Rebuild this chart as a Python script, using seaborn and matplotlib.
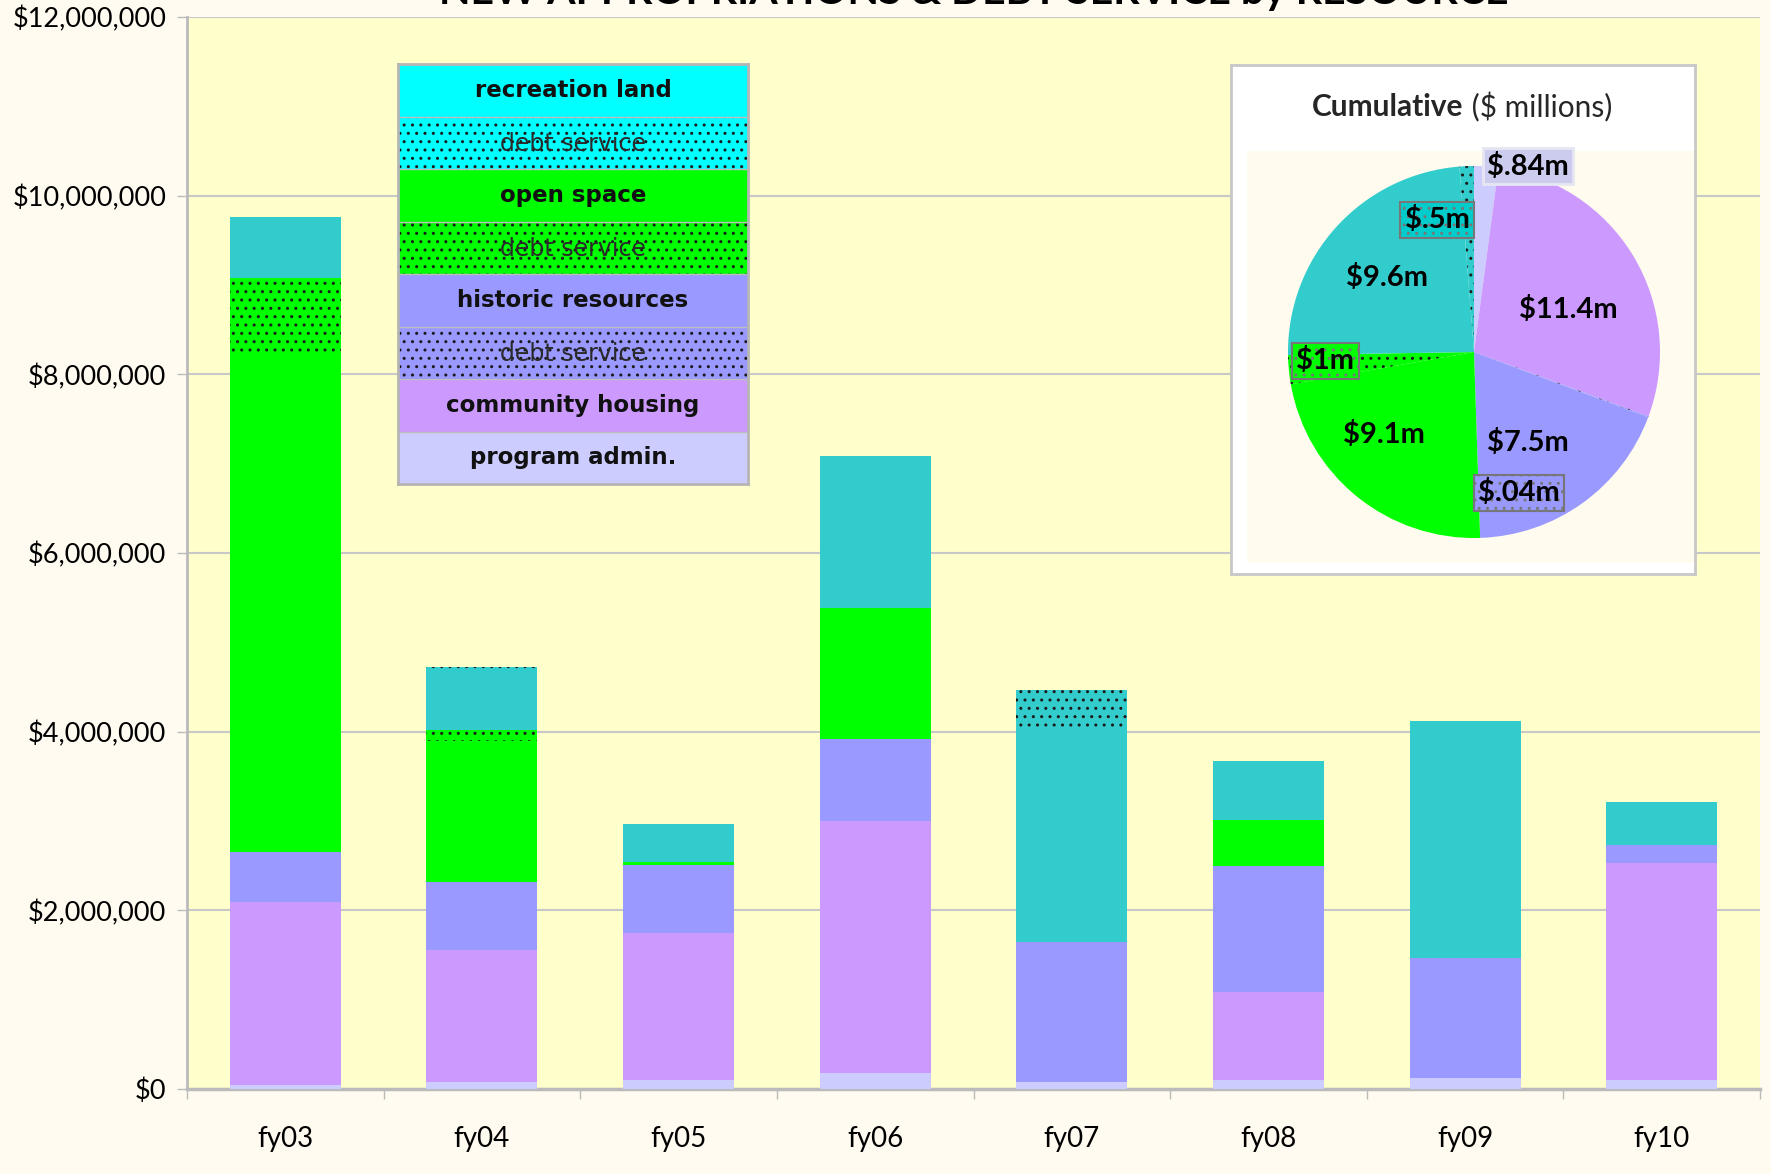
import numpy as np
import pandas as pd
import matplotlib
matplotlib.use("Agg")
import matplotlib.pyplot as plt
import seaborn as sns
from matplotlib.patches import Rectangle
from matplotlib.ticker import FuncFormatter, MultipleLocator, FixedLocator

# ---------------- data (millions of dollars) ----------------
years = ["fy03", "fy04", "fy05", "fy06", "fy07", "fy08", "fy09", "fy10"]
program_admin = [0.04, 0.08, 0.10, 0.18, 0.08, 0.10, 0.12, 0.10]
community_housing = [2.05, 1.48, 1.65, 2.82, 0.00, 0.99, 0.00, 2.43]
historic_resources = [0.56, 0.76, 0.76, 0.92, 1.57, 1.41, 1.35, 0.20]
historic_debt = [0.00, 0.00, 0.00, 0.00, 0.00, 0.00, 0.00, 0.00]
open_space = [5.56, 1.57, 0.03, 1.46, 0.00, 0.51, 0.00, 0.00]
open_space_debt = [0.87, 0.13, 0.00, 0.00, 0.00, 0.00, 0.00, 0.00]
recreation_land = [0.68, 0.65, 0.43, 1.71, 2.37, 0.66, 2.65, 0.48]
recreation_debt = [0.00, 0.05, 0.00, 0.00, 0.45, 0.00, 0.00, 0.00]

pie_labels = ["$.84m", "$11.4m", "$.04m", "$7.5m", "$9.1m", "$1m", "$9.6m", "$.5m"]
pie_values = [0.84, 11.4, 0.04, 7.5, 9.1, 1.0, 9.6, 0.5]

legend_labels = ["recreation land", "debt service", "open space", "debt service",
                 "historic resources", "debt service", "community housing", "program admin."]

title = "NEW APPROPRIATIONS & DEBT SERVICE by RESOURCE"

# ---------------- styles ----------------
C_REC, C_OPEN, C_HIST, C_COMM, C_ADMIN = "#33CCCC", "#00FF00", "#9999FF", "#CC99FF", "#CCCCFF"
DOTS = ".."
layers = [  # bottom -> top
    (program_admin, C_ADMIN, None),
    (community_housing, C_COMM, None),
    (historic_resources, C_HIST, None),
    (historic_debt, C_HIST, DOTS),
    (open_space, C_OPEN, None),
    (open_space_debt, C_OPEN, DOTS),
    (recreation_land, C_REC, None),
    (recreation_debt, C_REC, DOTS),
]
pie_colors = [C_ADMIN, C_COMM, C_HIST, C_HIST, C_OPEN, C_OPEN, C_REC, C_REC]
pie_hatch = [None, None, DOTS, None, None, DOTS, None, DOTS]
legend_colors = ["#00FFFF", "#00FFFF", "#00FF00", "#00FF00", "#9999FF", "#9999FF", "#CC99FF", "#CCCCFF"]
legend_hatch = [None, DOTS, None, DOTS, None, DOTS, None, None]

sns.set_theme(style="white")
plt.rcParams["font.family"] = ["Lato", "DejaVu Sans"]
plt.rcParams["hatch.linewidth"] = 1.0

BG = "#FFFBF0"
fig = plt.figure(figsize=(17.71, 11.74), dpi=100, facecolor=BG)
ax = fig.add_axes([187 / 1771, 1 - 1089 / 1174, 1573 / 1771, 1072 / 1174])
ax.set_facecolor("#FFFFCC")

# stacked bars: draw cumulative totals from top layer down
cum = np.cumsum(np.array([np.array(l[0]) for l in layers]), axis=0) * 1e6
for i in reversed(range(len(layers))):
    _, col, h = layers[i]
    df = pd.DataFrame({"year": years, "value": cum[i]})
    sns.barplot(data=df, x="year", y="value", color=col, saturation=1, width=0.565,
                errorbar=None, edgecolor="#1a1a1a", linewidth=0, hatch=h, ax=ax, zorder=3)

ax.set_ylim(0, 12e6)
ax.set_xlim(-0.5, 7.5)
ax.yaxis.set_major_locator(MultipleLocator(2e6))
ax.yaxis.set_major_formatter(FuncFormatter(lambda v, p: "${:,.0f}".format(v)))
ax.grid(axis="y", color="#C8C8C8", linewidth=1.5, zorder=0)
ax.set_axisbelow(True)
ax.set_xlabel("")
ax.set_ylabel("")
for s in ["top", "right"]:
    ax.spines[s].set_visible(False)
ax.spines["left"].set_color("#BBBBBB")
ax.spines["left"].set_linewidth(2)
ax.spines["bottom"].set_color("#BBBBBB")
ax.spines["bottom"].set_linewidth(2.5)
ax.tick_params(axis="y", which="major", length=7, width=1, color="#BBBBBB", pad=8,
               labelsize=19.5, labelcolor="black", left=True)
ax.xaxis.set_minor_locator(FixedLocator(np.arange(-0.5, 8.0, 1.0)))
ax.tick_params(axis="x", which="major", length=0, pad=27, labelsize=20, labelcolor="black")
ax.tick_params(axis="x", which="minor", length=7, width=1, color="#BBBBBB", bottom=True)

# partially visible title (clipped at top of the image)
fig.text((187 + 1760) / 2 / 1771, 1 - 4 / 1174, title, ha="center", va="baseline",
         fontsize=29.5, fontweight="bold", color="black")

# ---------------- legend panel ----------------
lax = fig.add_axes([398 / 1771, 1 - 484 / 1174, 350 / 1771, 420 / 1174], zorder=5)
lax.set_xlim(0, 1)
lax.set_ylim(0, len(legend_labels))
lax.set_xticks([])
lax.set_yticks([])
for s in lax.spines.values():
    s.set_color("#B5B5B5")
    s.set_linewidth(2)
for k, (lab, col, h) in enumerate(zip(legend_labels, legend_colors, legend_hatch)):
    y0 = len(legend_labels) - 1 - k
    lax.add_patch(Rectangle((0, y0), 1, 1, facecolor=col, edgecolor="#1a1a1a" if h else col,
                            linewidth=0, hatch=h))
    if lab == "debt service":
        lax.text(0.5, y0 + 0.47, lab, ha="center", va="center", fontsize=17,
                 family="DejaVu Sans", color="#2a2a2a", fontweight="normal")
    else:
        lax.text(0.5, y0 + 0.5, lab, ha="center", va="center", fontsize=16.5,
                 family="DejaVu Sans", fontweight="bold", color="#111111")
    if k > 0:
        lax.axhline(y0 + 1, color="#BDBDBD", linewidth=1)

# ---------------- cumulative pie panel ----------------
bax = fig.add_axes([1231 / 1771, 1 - 574 / 1174, 464 / 1771, 509 / 1174], zorder=5)
bax.set_facecolor("white")
bax.set_xlim(0, 1)
bax.set_ylim(0, 1)
bax.set_xticks([])
bax.set_yticks([])
for s in bax.spines.values():
    s.set_color("#C8C8C8")
    s.set_linewidth(2)
bax.add_patch(Rectangle((0.0345, 0.0216), 0.9655, 0.81, facecolor="#FFFBEF", edgecolor="none"))
t1 = bax.text(0.0, 0.0, "Cumulative", fontsize=21.5, fontweight="bold", va="center")
t2 = bax.text(0.0, 0.0, " ($ millions)", fontsize=21.5, va="center")
fig.canvas.draw()
r = fig.canvas.get_renderer()
w1 = t1.get_window_extent(r).width
w2 = t2.get_window_extent(r).width
bw = bax.get_window_extent(r).width
x0 = 0.498 - (w1 + w2) / 2 / bw
t1.set_position((x0, 0.9175))
t2.set_position((x0 + w1 / bw, 0.9175))

R = 186
pax = fig.add_axes([(1474 - R) / 1771, 1 - (352 + R) / 1174, 2 * R / 1771, 2 * R / 1174], zorder=6)
pax.set_facecolor("none")
wedges, _ = pax.pie(pie_values, colors=pie_colors, startangle=90, counterclock=False, radius=1,
                    wedgeprops=dict(linewidth=0, edgecolor="#1a1a1a"))
for w, h in zip(wedges, pie_hatch):
    if h:
        w.set_hatch(h)
pax.set_xlim(-1, 1)
pax.set_ylim(-1, 1)
pax.set_aspect("equal")
pax.axis("off")

label_pos = [(0.29, 1.0), (0.505, 0.226), (0.242, -0.758), (0.29, -0.484),
             (-0.484, -0.446), (-0.80, -0.048), (-0.468, 0.398), (-0.199, 0.71)]
label_box = [dict(facecolor="#CCCCEE", edgecolor="#E6E6F2", linewidth=2, boxstyle="square,pad=0.15"),
             None,
             dict(facecolor=C_HIST, edgecolor="#777777", linewidth=1.5, hatch=DOTS, boxstyle="square,pad=0.15"),
             None, None,
             dict(facecolor=C_OPEN, edgecolor="#777777", linewidth=1.5, hatch=DOTS, boxstyle="square,pad=0.15"),
             None,
             dict(facecolor="#00CCCC", edgecolor="#777777", linewidth=1.5, hatch=DOTS, boxstyle="square,pad=0.15")]
for lab, (lx, ly), bb in zip(pie_labels, label_pos, label_box):
    pax.text(lx, ly, lab, ha="center", va="center", fontsize=21, fontweight="bold",
             color="black", bbox=bb)

fig.savefig("out.png", dpi=100, facecolor=BG)
